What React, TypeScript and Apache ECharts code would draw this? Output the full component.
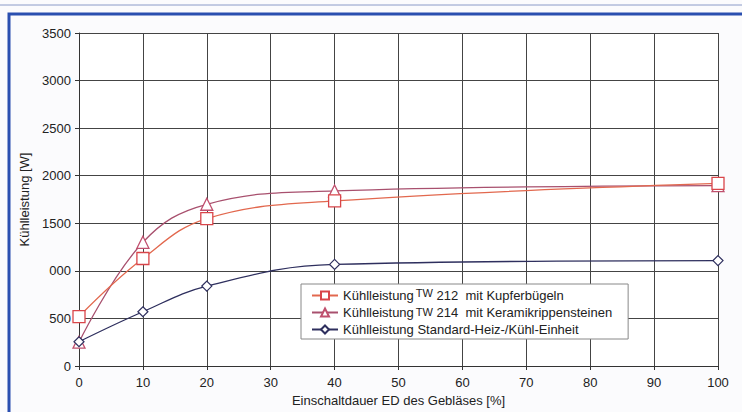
import React, { useEffect, useRef } from "react";
import * as echarts from "echarts";

const xValues = [0, 10, 20, 40, 100];
const tw212 = [520, 1130, 1550, 1735, 1920];
const tw214 = [250, 1300, 1700, 1840, 1895];
const standard = [255, 570, 840, 1068, 1108];
const yTickLabels: Record<number, string> = {
  0: "0", 500: "500", 1000: "000", 1500: "1500", 2000: "2000", 2500: "2500", 3000: "3000", 3500: "3500",
};
const seriesNames = ["TW212", "TW214", "STD"];

export default function App() {
  const ref = useRef<HTMLDivElement>(null);
  useEffect(() => {
    const chart = echarts.init(ref.current!, null, { renderer: "svg" });
    const font = "'Liberation Sans', Arial, sans-serif";
    const mk = (arr: number[]) => xValues.map((x, i) => [x, arr[i]]);
    chart.setOption({
      animation: false,
      backgroundColor: "#fbfbfd",
      textStyle: { fontFamily: font },
      graphic: [
        { type: "line", shape: { x1: 0, y1: 5, x2: 742, y2: 5 }, style: { stroke: "#8a9ac8", lineWidth: 1 } },
        { type: "rect", shape: { x: 9, y: 14, width: 740, height: 410 }, style: { fill: "none", stroke: "#2a4fb0", lineWidth: 3 } },
      ],
      grid: { left: 79, right: 24, top: 33, bottom: 44, backgroundColor: "#ffffff", show: true, borderWidth: 0 },
      xAxis: {
        type: "value",
        min: 0,
        max: 100,
        interval: 10,
        name: "Einschaltdauer ED des Gebläses [%]",
        nameLocation: "middle",
        nameGap: 28,
        nameTextStyle: { fontSize: 13, color: "#222", fontFamily: font },
        axisLine: { lineStyle: { color: "#333", width: 1 } },
        axisTick: { show: true, length: 4, lineStyle: { color: "#333" } },
        axisLabel: { fontSize: 13, color: "#222", margin: 10, fontFamily: font },
        splitLine: { show: true, lineStyle: { color: "#444", width: 1 } },
      },
      yAxis: {
        type: "value",
        min: 0,
        max: 3500,
        interval: 500,
        name: "Kühlleistung [W]",
        nameLocation: "middle",
        nameGap: 44,
        nameTextStyle: { fontSize: 13, color: "#222", fontFamily: font },
        axisLine: { show: true, lineStyle: { color: "#333", width: 1 } },
        axisTick: { show: true, length: 4, lineStyle: { color: "#333" } },
        axisLabel: { fontSize: 13, color: "#222", margin: 8, fontFamily: font, formatter: (v: number) => yTickLabels[v] ?? String(v) },
        splitLine: { show: true, lineStyle: { color: "#444", width: 1 } },
      },
      legend: {
        orient: "vertical",
        left: 301,
        top: 284,
        width: 330,
        backgroundColor: "#ffffff",
        borderColor: "#888",
        borderWidth: 1,
        borderRadius: 0,
        padding: [3, 16, 3, 10],
        itemGap: 4,
        itemWidth: 26,
        itemHeight: 10,
        data: seriesNames,
        formatter: (n: string) => {
          if (n === "TW212") return "Kühlleistung{sup|TW} 212  mit Kupferbügeln";
          if (n === "TW214") return "Kühlleistung{tw|TW} 214  mit Keramikrippensteinen";
          return "Kühlleistung Standard-Heiz-/Kühl-Einheit";
        },
        textStyle: {
          fontSize: 13,
          color: "#222",
          fontFamily: font,
          rich: {
            sup: { fontSize: 11, color: "#222", fontFamily: font, verticalAlign: "top", padding: [0, 0, 6, 2] },
            tw: { fontSize: 11, color: "#222", fontFamily: font, padding: [0, 0, 2, 2] },
          },
        },
      },
      series: [
        {
          name: "TW212",
          type: "line",
          data: mk(tw212),
          smooth: 0.4,
          symbol: "rect",
          symbolSize: 12,
          lineStyle: { color: "#e2684e", width: 1.3 },
          itemStyle: { color: "#ffffff", borderColor: "#d9454a", borderWidth: 1.3 },
          z: 3,
        },
        {
          name: "TW214",
          type: "line",
          data: mk(tw214),
          smooth: 0.4,
          symbol: "triangle",
          symbolSize: 12,
          lineStyle: { color: "#a8506e", width: 1.3 },
          itemStyle: { color: "#ffffff", borderColor: "#c0506e", borderWidth: 1.3 },
          z: 2,
        },
        {
          name: "STD",
          type: "line",
          data: mk(standard),
          smooth: 0.4,
          symbol: "diamond",
          symbolSize: 10,
          lineStyle: { color: "#2e2f5e", width: 1.3 },
          itemStyle: { color: "#ffffff", borderColor: "#2e2f5e", borderWidth: 1.2 },
          z: 4,
        },
      ],
    });
    return () => chart.dispose();
  }, []);
  return <div ref={ref} style={{ position: "absolute", left: 0, top: 0, width: 742, height: 412 }} />;
}
